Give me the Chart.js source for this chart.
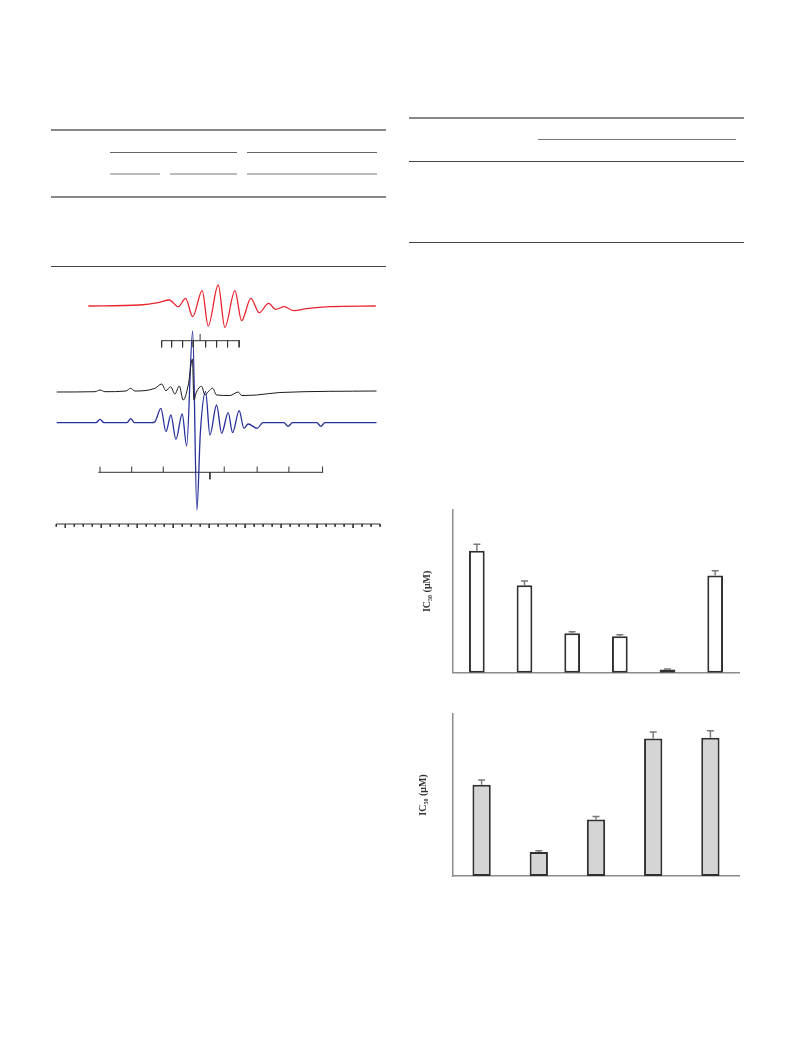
<!DOCTYPE html>
<html lang="en">
<head>
<meta charset="UTF-8">
<title>EPR spectra and IC50 bars</title>
<script src="https://cdn.jsdelivr.net/npm/chart.js"></script>
<style>
  body { margin: 0; background: #fff; }
  .page { position: relative; width: 793px; height: 1057px; }
  .rule { position: absolute; height: 0; border-top: 1px solid #444; }
  .rule.heavy { border-top: 2px solid #888; }
  .rule.light { border-top: 2px solid #bbb; }
  canvas { position: absolute; }
</style>
</head>
<body>
<div class="page">
  <!-- table rules, left -->
  <div class="rule heavy" style="left:51px; top:129px; width:335px"></div>
  <div class="rule" style="left:110px; top:152px; width:127px; border-color:#666"></div>
  <div class="rule" style="left:247px; top:152px; width:130px; border-color:#666"></div>
  <div class="rule light" style="left:110px; top:173px; width:50px"></div>
  <div class="rule light" style="left:170px; top:173px; width:67px"></div>
  <div class="rule light" style="left:247px; top:173px; width:130px"></div>
  <div class="rule heavy" style="left:51px; top:196px; width:335px"></div>
  <div class="rule" style="left:51px; top:266px; width:335px"></div>
  <!-- table rules, right -->
  <div class="rule heavy" style="left:409px; top:117px; width:335px"></div>
  <div class="rule" style="left:538px; top:139px; width:198px; border-color:#777"></div>
  <div class="rule" style="left:409px; top:161px; width:335px"></div>
  <div class="rule" style="left:409px; top:242px; width:335px"></div>

  <canvas id="spectra" width="340" height="256" style="left:50px; top:278px"></canvas>
  <canvas id="ic50a" width="340" height="190" style="left:410px; top:500px"></canvas>
  <canvas id="ic50b" width="340" height="190" style="left:410px; top:700px"></canvas>
</div>

<script>
// spectra: field in ruler divisions, signal in arbitrary units
const redField = [3.56, 9.30, 11.33, 12.56, 13.56, 14.38, 15.16, 16.22, 16.89, 18.0, 18.74, 19.86, 20.6, 21.63, 22.56, 23.6, 24.41, 25.33, 26.41, 27.82, 30.41, 35.52];
const redSignal = [0, 1, 3.3, 6, -0.7, 7.7, -10.7, 15.3, -20, 21, -21.3, 15.3, -14.7, 7.7, -6.7, 2.7, -3.3, -0.7, -4.7, -2.7, -0.7, 0];

const blackField = [0.04, 4.3, 4.86, 5.41, 7.74, 8.27, 8.74, 10.97, 11.71, 12.19, 12.71, 13.19, 13.67, 14.11, 14.67, 15.13, 15.3, 15.58, 16.16, 16.52, 16.89, 17.38, 17.82, 19.3, 20.22, 20.6, 22.27, 24.86, 35.6];
const blackSignal = [-0.3, 0, 1.7, 0, 0.7, 3.4, 0.7, 3.4, 7.7, 1, 5, -2.3, 5.7, -8.3, 6.7, 32.7, -8.3, -0.3, 5.4, -3.3, 0, 3.4, -3.3, -3.8, -0.3, -3.8, -3.3, -0.8, 0.7];

const blueField = [0.04, 4.41, 4.86, 5.3, 7.86, 8.27, 8.69, 10.63, 10.97, 11.63, 12.19, 12.74, 13.3, 14.0, 14.49, 15.16, 15.63, 16.02, 16.6, 17.08, 17.82, 18.38, 19.11, 19.6, 20.33, 20.86, 21.33, 22.33, 22.97, 25.3, 25.78, 26.26, 28.97, 29.41, 29.86, 35.6];
const blueSignal = [0, 0, 3.4, 0, 0, 4, 0, 0, 1, 14.4, -9, 7.7, -16.6, 8.7, -23.3, 91.7, -87.3, -9.3, 31, -12.3, 17.7, -10.6, 10, -10, 12, -5.6, -1.3, -5.6, 0, 0, -3.6, 0, 0, -3.6, 0, 0];

// stick diagrams and field ruler
const topSticks = [11.71, 12.82, 14.04, 15.22, 16.6, 17.82, 19.04, 20.33];
const topMarker = [15.99];
const bottomSticks = [4.86, 8.38, 11.89, 15.49, 18.67, 22.33, 25.86, 29.6];
const bottomMarker = [17.08];
const rulerMinor = [0, 2, 3, 4, 6, 7, 8, 10, 11, 12, 14, 15, 16, 18, 19, 20, 22, 23, 24, 26, 27, 28, 30, 31, 32, 34, 35, 36];
const rulerMajor = [1, 5, 9, 13, 17, 21, 25, 29, 33];

// IC50 bars
const setA = ['1', '2', '3', '4', '5', '6'];
const ic50A = [37.5, 26.9, 12.1, 11.2, 1.0, 29.9];
const errA = [2.0, 1.3, 0.5, 0.5, 0.1, 1.4];
const setB = ['1', '2', '3', '4', '5'];
const ic50B = [28.2, 7.4, 17.4, 42.4, 42.7];
const errB = [1.45, 0.4, 0.93, 2.07, 2.16];

// vertical placement of the traces inside the spectra canvas
const level = { red: 228, black: 142.3, blue: 111.3, topStick: 193.3, bottomStick: 61.7, ruler: 10 };

function trace(fields, signal, offset) {
  return fields.map((f, i) => ({ x: f, y: signal[i] + offset }));
}

function sticks(from, to, y, marks, len, extra, extraLen) {
  const pts = [{ x: from, y: y }, { x: to, y: y }, { x: to, y: null }];
  marks.forEach(p => pts.push({ x: p, y: y }, { x: p, y: y + len }, { x: p, y: null }));
  (extra || []).forEach(p => pts.push({ x: p, y: y }, { x: p, y: y + extraLen }, { x: p, y: null }));
  return pts;
}

const lineStyle = (color, w) => ({
  borderColor: color, borderWidth: w, pointRadius: 0, fill: false, clip: false, spanGaps: false
});

new Chart(document.getElementById('spectra'), {
  type: 'line',
  data: {
    datasets: [
      Object.assign({ data: trace(redField, redSignal, level.red), cubicInterpolationMode: 'monotone' }, lineStyle('#e8242e', 1.3)),
      Object.assign({ data: sticks(11.71, 20.41, level.topStick, topSticks, -6.6, topMarker, 6.7) }, lineStyle('#333', 1)),
      Object.assign({ data: trace(blackField, blackSignal, level.black), cubicInterpolationMode: 'monotone' }, lineStyle('#1a1a1a', 1)),
      Object.assign({ data: trace(blueField, blueSignal, level.blue), cubicInterpolationMode: 'monotone' }, lineStyle('#27309a', 1.3)),
      Object.assign({ data: sticks(4.67, 29.67, level.bottomStick, bottomSticks, 5.7, bottomMarker, -7) }, lineStyle('#333', 1)),
      Object.assign({ data: sticks(0, 36, level.ruler, rulerMinor, -2.7, rulerMajor, -4) }, lineStyle('#333', 1))
    ]
  },
  options: {
    responsive: false,
    animation: false,
    layout: { padding: 0 },
    plugins: { legend: { display: false }, tooltip: { enabled: false } },
    scales: {
      x: { type: 'linear', min: -0.7, max: 37.1, display: false },
      y: { type: 'linear', min: 0, max: 256, display: false }
    }
  }
});

// upper error whiskers
const errorBars = {
  id: 'errorBars',
  afterDatasetsDraw(chart, args, opts) {
    const ctx = chart.ctx;
    const yScale = chart.scales.y;
    const meta = chart.getDatasetMeta(0);
    const vals = chart.data.datasets[0].data;
    ctx.save();
    ctx.strokeStyle = '#7a7a7a';
    ctx.lineWidth = 1.5;
    meta.data.forEach((bar, i) => {
      const yTop = yScale.getPixelForValue(vals[i] + opts.errors[i]);
      ctx.beginPath();
      ctx.moveTo(bar.x, bar.y);
      ctx.lineTo(bar.x, yTop);
      ctx.moveTo(bar.x - 3.5, yTop);
      ctx.lineTo(bar.x + 3.5, yTop);
      ctx.stroke();
    });
    ctx.restore();
  }
};

function ic50Chart(id, labels, values, errors, fill, pad, titleGap, barPct) {
  return new Chart(document.getElementById(id), {
    type: 'bar',
    data: {
      labels: labels,
      datasets: [{
        data: values,
        backgroundColor: fill,
        borderColor: '#303030',
        borderWidth: 2,
        borderSkipped: false,
        barPercentage: barPct,
        categoryPercentage: 1
      }]
    },
    plugins: [errorBars],
    options: {
      responsive: false,
      animation: false,
      layout: { padding: pad },
      plugins: {
        legend: { display: false },
        tooltip: { enabled: false },
        errorBars: { errors: errors }
      },
      scales: {
        x: {
          grid: { display: false, drawTicks: false },
          ticks: { display: false },
          border: { color: '#8c8c8c', width: 1.5 },
          afterFit: s => { s.height = 0; }
        },
        y: {
          min: 0, max: 50,
          grid: { display: false, drawTicks: false },
          ticks: { display: false },
          border: { color: '#8c8c8c', width: 1.5 },
          title: {
            display: true,
            text: 'IC₅₀ (μM)',
            color: '#333',
            font: { family: 'Liberation Serif', size: 10, weight: 'bold' },
            padding: { top: titleGap, bottom: 0 }
          },
          afterFit: s => { s.width = 43; }
        }
      }
    }
  });
}

ic50Chart('ic50a', setA, ic50A, errA, '#ffffff', { top: 10, bottom: 17.3, right: 11, left: 0 }, 11, 0.33);
ic50Chart('ic50b', setB, ic50B, errB, '#d5d5d5', { top: 14, bottom: 14, right: 11, left: 0 }, 7, 0.32);
</script>
</body>
</html>
